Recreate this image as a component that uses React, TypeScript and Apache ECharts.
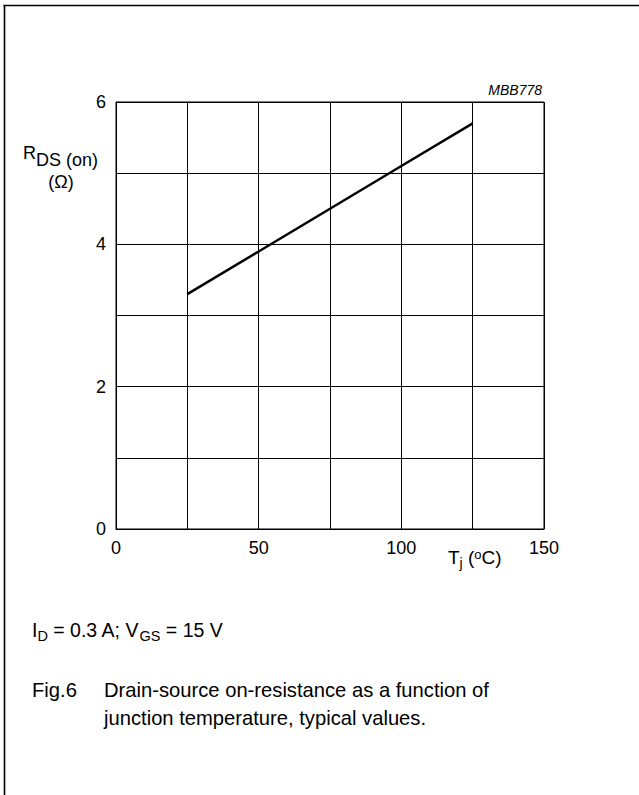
import React, { useEffect, useRef } from "react";
import * as echarts from "echarts";

// Junction temperature (°C) and typical drain-source on-resistance (Ω)
const temperatures = [25, 50, 75, 100, 125];
const rdsOn = [3.3, 3.9, 4.5, 5.1, 5.7];
const xTickLabels = [0, 50, 100, 150];
const yTickLabels = [0, 2, 4, 6];

const FONT = '"Liberation Sans", Arial, Helvetica, sans-serif';

export default function App() {
  const ref = useRef<HTMLDivElement>(null);

  useEffect(() => {
    if (!ref.current) return;
    const chart = echarts.init(ref.current, null, { renderer: "svg" });
    chart.setOption({
      animation: false,
      backgroundColor: "#fff",
      textStyle: { fontFamily: FONT, color: "#000" },
      grid: {
        left: 116,
        top: 102,
        width: 428,
        height: 427,
        show: true,
        borderColor: "#000",
        borderWidth: 1,
        containLabel: false,
      },
      xAxis: {
        type: "value",
        min: 0,
        max: 150,
        interval: 25,
        axisLine: { show: true, lineStyle: { color: "#000", width: 1 } },
        axisTick: { show: false },
        axisLabel: {
          fontSize: 18,
          fontFamily: FONT,
          color: "#000",
          margin: 10,
          formatter: (v: number) => (xTickLabels.includes(v) ? String(v) : ""),
        },
        splitLine: { show: true, lineStyle: { color: "#000", width: 1 } },
      },
      yAxis: {
        type: "value",
        min: 0,
        max: 6,
        interval: 1,
        axisLine: { show: true, lineStyle: { color: "#000", width: 1 } },
        axisTick: { show: false },
        axisLabel: {
          fontSize: 18,
          fontFamily: FONT,
          color: "#000",
          margin: 10,
          formatter: (v: number) => (yTickLabels.includes(v) ? String(v) : ""),
        },
        splitLine: { show: true, lineStyle: { color: "#000", width: 1 } },
      },
      series: [
        {
          type: "line",
          data: temperatures.map((t, i) => [t, rdsOn[i]]),
          symbol: "none",
          silent: true,
          lineStyle: { color: "#000", width: 2.5 },
        },
      ],
      graphic: [
        {
          type: "line",
          shape: { x1: 3.5, y1: 5.5, x2: 639, y2: 5.5 },
          style: { stroke: "#000", lineWidth: 1.6 },
        },
        {
          type: "line",
          shape: { x1: 4.5, y1: 5, x2: 4.5, y2: 795 },
          style: { stroke: "#000", lineWidth: 1.6 },
        },
        {
          type: "text",
          x: 542,
          y: 90,
          style: {
            text: "MBB778",
            fontSize: 14,
            fontStyle: "italic",
            fontFamily: FONT,
            fill: "#000",
            align: "right",
            verticalAlign: "middle",
          },
        },
        {
          type: "text",
          x: 23,
          y: 143.5,
          style: {
            text: "{m|R}{s|DS (on)}",
            fill: "#000",
            align: "left",
            verticalAlign: "top",
            rich: {
              m: { fontSize: 18, lineHeight: 18, fontFamily: FONT, verticalAlign: "top" },
              s: { fontSize: 18, lineHeight: 25, fontFamily: FONT, verticalAlign: "bottom" },
            },
          },
        },
        {
          type: "text",
          x: 61,
          y: 181.5,
          style: {
            text: "(Ω)",
            fontSize: 18,
            fontFamily: FONT,
            fill: "#000",
            align: "center",
            verticalAlign: "middle",
          },
        },
        {
          type: "text",
          x: 448,
          y: 548,
          style: {
            text: "{m|T}{s|j}{m| (}{p|o}{m|C)}",
            fill: "#000",
            align: "left",
            verticalAlign: "top",
            rich: {
              m: { fontSize: 19, lineHeight: 20, fontFamily: FONT, verticalAlign: "top" },
              s: { fontSize: 14, lineHeight: 22, fontFamily: FONT, verticalAlign: "bottom" },
              p: { fontSize: 13, lineHeight: 13, fontFamily: FONT, verticalAlign: "top" },
            },
          },
        },
        {
          type: "text",
          x: 32,
          y: 620,
          style: {
            text: "{m|I}{s|D}{m| = 0.3 A; V}{s|GS}{m| = 15 V}",
            fill: "#000",
            align: "left",
            verticalAlign: "top",
            rich: {
              m: { fontSize: 19.5, lineHeight: 20, fontFamily: FONT, verticalAlign: "top" },
              s: { fontSize: 14.5, lineHeight: 23, fontFamily: FONT, verticalAlign: "bottom" },
            },
          },
        },
        {
          type: "text",
          x: 32,
          y: 690,
          style: {
            text: "Fig.6",
            fontSize: 20.2,
            fontFamily: FONT,
            fill: "#000",
            align: "left",
            verticalAlign: "middle",
          },
        },
        {
          type: "text",
          x: 104,
          y: 690,
          style: {
            text: "Drain-source on-resistance as a function of",
            fontSize: 20.2,
            fontFamily: FONT,
            fill: "#000",
            align: "left",
            verticalAlign: "middle",
          },
        },
        {
          type: "text",
          x: 104,
          y: 718,
          style: {
            text: "junction temperature, typical values.",
            fontSize: 20.2,
            fontFamily: FONT,
            fill: "#000",
            align: "left",
            verticalAlign: "middle",
          },
        },
      ],
    });
    return () => chart.dispose();
  }, []);

  return (
    <div
      ref={ref}
      style={{ position: "absolute", left: 0, top: 0, width: 639, height: 795, background: "#fff" }}
    />
  );
}
